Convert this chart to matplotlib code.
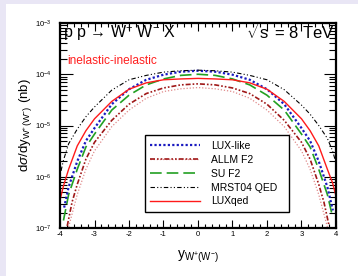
import matplotlib
matplotlib.use("Agg")
import matplotlib.pyplot as plt
from matplotlib.patches import Rectangle
from matplotlib.ticker import LogLocator, MultipleLocator, NullFormatter, FixedLocator

plt.rcParams['font.family'] = ['Liberation Sans', 'DejaVu Sans']
plt.rcParams['mathtext.fontset'] = 'custom'
plt.rcParams['mathtext.rm'] = 'Liberation Sans'
plt.rcParams['mathtext.it'] = 'Liberation Sans:italic'
plt.rcParams['mathtext.sf'] = 'Liberation Sans'
plt.rcParams['axes.unicode_minus'] = False

# ---------------- data ----------------
y_mrst = [-3.97, -3.9, -3.75, -3.5, -3.25, -3.0, -2.5, -2.0, -1.5, -1.0, -0.5, 0.0,
          0.5, 1.0, 1.5, 2.0, 2.5, 3.0, 3.25, 3.5, 3.75, 3.9, 3.97]
v_mrst = [1.3e-6, 2.1e-6, 4.4e-6, 8.5e-6, 1.48e-5, 2.3e-5, 4.9e-5, 7.8e-5, 9.5e-5, 1.10e-4, 1.17e-4, 1.20e-4,
          1.17e-4, 1.10e-4, 9.5e-5, 7.8e-5, 5.0e-5, 2.5e-5, 1.66e-5, 1.0e-5, 5.6e-6, 3.2e-6, 2.2e-6]

y_luxlike = [-3.88, -3.75, -3.5, -3.25, -3.0, -2.5, -2.0, -1.5, -1.0, -0.5, 0.0,
             0.5, 1.0, 1.5, 2.0, 2.5, 3.0, 3.25, 3.5, 3.75, 3.91]
v_luxlike = [2.5e-7, 6.3e-7, 2.0e-6, 5.0e-6, 8.9e-6, 2.6e-5, 5.1e-5, 7.8e-5, 9.8e-5, 1.12e-4, 1.17e-4,
             1.12e-4, 9.8e-5, 7.8e-5, 5.1e-5, 2.6e-5, 8.9e-6, 5.0e-6, 2.0e-6, 6.3e-7, 2.2e-7]

y_luxqed = [-4.0, -3.9, -3.75, -3.5, -3.25, -3.0, -2.5, -2.0, -1.5, -1.0, -0.5, 0.0,
            0.5, 1.0, 1.5, 2.0, 2.5, 3.0, 3.25, 3.5, 3.75, 3.9, 4.0]
v_luxqed = [3.5e-7, 6.6e-7, 1.4e-6, 4.0e-6, 7.9e-6, 1.35e-5, 2.95e-5, 5.1e-5, 6.8e-5, 7.8e-5, 8.1e-5, 8.3e-5,
            8.1e-5, 7.8e-5, 6.8e-5, 5.1e-5, 2.95e-5, 1.35e-5, 7.9e-6, 4.0e-6, 1.4e-6, 7.6e-7, 4.2e-7]

y_su = [-3.9, -3.75, -3.5, -3.25, -3.0, -2.5, -2.0, -1.5, -1.0, -0.5, 0.0,
        0.5, 1.0, 1.5, 2.0, 2.5, 3.0, 3.25, 3.5, 3.75, 3.88]
v_su = [1.4e-7, 4.5e-7, 1.4e-6, 3.8e-6, 6.8e-6, 2.0e-5, 3.9e-5, 6.2e-5, 8.1e-5, 9.5e-5, 1.0e-4,
        9.5e-5, 8.1e-5, 6.2e-5, 3.9e-5, 2.0e-5, 6.8e-6, 3.8e-6, 1.4e-6, 4.5e-7, 1.9e-7]

y_allm = [-3.79, -3.65, -3.5, -3.25, -3.0, -2.5, -2.0, -1.5, -1.0, -0.5, 0.0,
          0.5, 1.0, 1.5, 2.0, 2.5, 3.0, 3.25, 3.5, 3.65, 3.8]
v_allm = [1.1e-7, 3.2e-7, 7.1e-7, 2.2e-6, 4.7e-6, 1.26e-5, 2.6e-5, 4.2e-5, 5.4e-5, 6.2e-5, 6.5e-5,
          6.2e-5, 5.4e-5, 4.2e-5, 2.6e-5, 1.26e-5, 4.7e-6, 2.2e-6, 7.1e-7, 3.2e-7, 1.1e-7]

y_allm2 = [-3.75, -3.5, -3.25, -3.0, -2.5, -2.0, -1.5, -1.0, -0.5, 0.0,
           0.5, 1.0, 1.5, 2.0, 2.5, 3.0, 3.25, 3.5, 3.75]
v_allm2 = [1.05e-7, 4.5e-7, 1.4e-6, 3.2e-6, 9.5e-6, 2.0e-5, 3.4e-5, 4.6e-5, 5.2e-5, 5.5e-5,
           5.2e-5, 4.6e-5, 3.4e-5, 2.0e-5, 9.5e-6, 3.2e-6, 1.4e-6, 4.5e-7, 1.05e-7]

labels = ["LUX-like", "ALLM F2", "SU F2", "MRST04 QED", "LUXqed"]
xticks = [-4, -3, -2, -1, 0, 1, 2, 3, 4]

# ---------------- figure ----------------
W, H = 358, 276
fig = plt.figure(figsize=(W / 100, H / 100), dpi=100)
fig.patch.set_facecolor('#e9e6f5')
fig.add_artist(Rectangle((6 / W, -0.02), 1.02 - 6 / W, 1.02 - 4 / H, transform=fig.transFigure,
                         facecolor='white', edgecolor='none', zorder=-10))

ax = fig.add_axes([60 / W, 1 - 228 / H, 276 / W, 205 / H])
ax.set_facecolor('white')

l_allm2, = ax.plot(y_allm2, v_allm2, color='#e08a8a', lw=0.9, ls=(0, (1, 1.5)))
l_allm, = ax.plot(y_allm, v_allm, color='#a01818', lw=1.2, ls=(0, (3, 1.2, 1, 1.2, 1, 1.2)))
l_su, = ax.plot(y_su, v_su, color='#22a022', lw=1.2, ls=(0, (7, 3)))
l_lux, = ax.plot(y_luxlike, v_luxlike, color='#1a1ac0', lw=1.6, ls=(0, (1, 1)))
l_mrst, = ax.plot(y_mrst, v_mrst, color='black', lw=0.8, ls=(0, (4, 2, 1, 2, 1, 2)))
l_qed, = ax.plot(y_luxqed, v_luxqed, color='#ff1a1a', lw=1.0, ls='-')

ax.set_yscale('log')
ax.set_xlim(-4, 4)
ax.set_ylim(1e-7, 1e-3)

ax.xaxis.set_major_locator(FixedLocator(xticks))
ax.xaxis.set_minor_locator(MultipleLocator(0.2))
ax.yaxis.set_major_locator(LogLocator(base=10, numticks=10))
ax.yaxis.set_minor_locator(LogLocator(base=10, subs=range(2, 10), numticks=20))
ax.yaxis.set_minor_formatter(NullFormatter())

ax.tick_params(which='both', direction='in', top=True, right=True, width=0.8)
ax.tick_params(axis='x', which='major', length=6, labelsize=5.5, pad=2.5)
ax.tick_params(axis='x', which='minor', length=3)
ax.tick_params(axis='y', which='major', length=9, labelsize=5.5, pad=6)
ax.tick_params(axis='y', which='minor', length=5)
for s in ax.spines.values():
    s.set_linewidth(1.6)

ax.set_xlabel(r'y$_{\mathrm{W^{+}(W^{-})}}$', fontsize=10)
ax.xaxis.set_label_coords(0.5, -0.1)
ax.set_ylabel(r'd$\sigma$/dy$_{\mathrm{W^{+}(W^{-})}}$ (nb)', fontsize=9.5)
ax.yaxis.set_label_coords(-0.095, 0.5)

ax.text(0.01, 0.95, 'p p → W$^{+}$ W$^{-}$ X', transform=ax.transAxes,
        fontsize=11.5, ha='left', va='center')
ax.text(0.995, 0.955, r'$\sqrt{\mathrm{s}}$ = 8 TeV', transform=ax.transAxes,
        fontsize=12, ha='right', va='center')
ax.text(0.025, 0.815, 'inelastic-inelastic', transform=ax.transAxes,
        fontsize=8.6, ha='left', va='center', color='#ff2020')

leg = ax.legend([l_lux, (l_allm2, l_allm), l_su, l_mrst, l_qed], labels,
                loc='lower left', bbox_to_anchor=(0.308, 0.0795, 0.522, 0.366),
                mode='expand', fontsize=7.5, handlelength=4.8, handletextpad=1.0,
                borderpad=0.5, labelspacing=0.38, borderaxespad=0, fancybox=False,
                framealpha=1, edgecolor='black')
leg.get_frame().set_linewidth(1.0)

fig.savefig('out.png', dpi=100, facecolor=fig.get_facecolor())
